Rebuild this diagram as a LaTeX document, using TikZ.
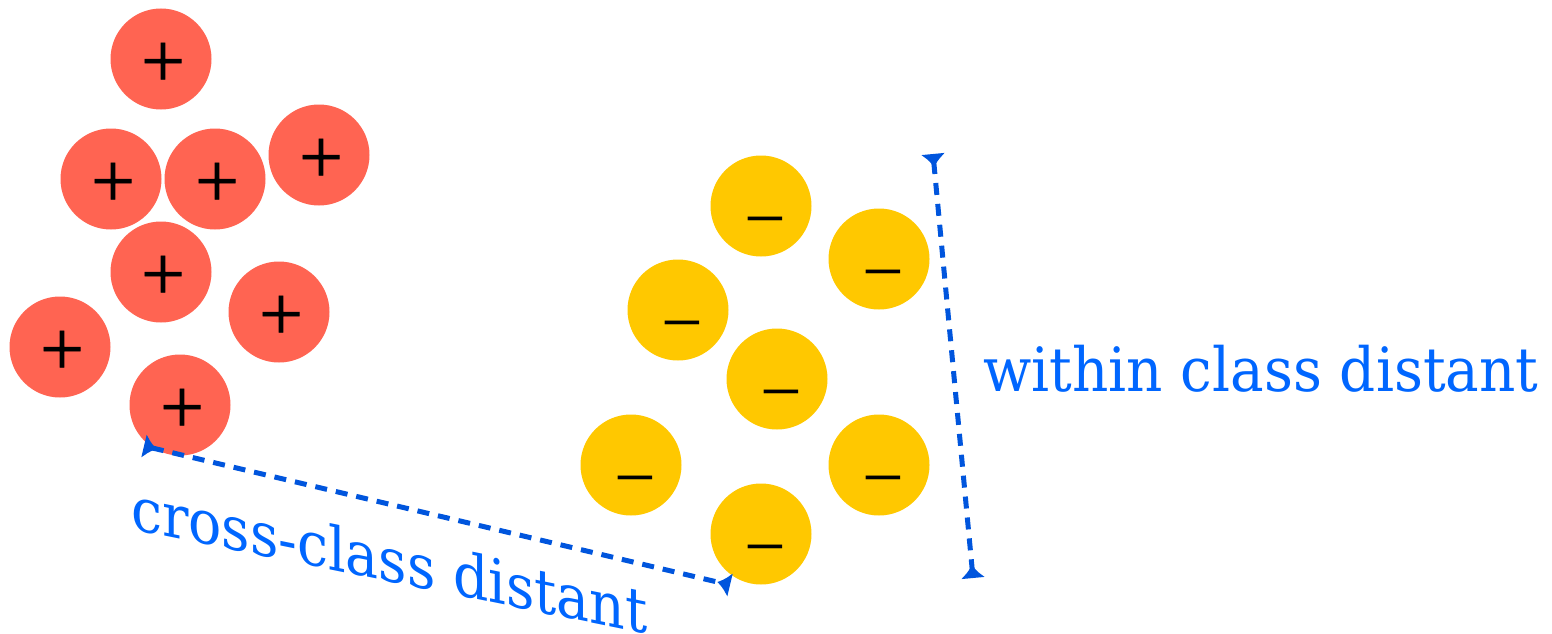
\documentclass[tikz,border=0pt]{standalone}
\usepackage{fontspec}
\usetikzlibrary{arrows.meta}
\newfontfamily\lblfont[FakeStretch=0.925]{DejaVu Serif}
\newfontfamily\signfont[FakeBold=0.8]{Liberation Serif}
\newfontfamily\minusfont{Liberation Serif}
\definecolor{posc}{HTML}{FF6452}
\definecolor{negc}{HTML}{FFC800}
\definecolor{arrc}{HTML}{0055DD}
\definecolor{txtc}{HTML}{0066FF}
\tikzset{
  ball/.style={circle, minimum size=101pt, inner sep=0pt, draw=none},
  posball/.style={ball, fill=posc, label={[signlbl, font=\signfont\fontsize{78}{78}\selectfont, xshift=2pt, yshift=-6pt]center:+}},
  negball/.style={ball, fill=negc, label={[signlbl, font=\minusfont\fontsize{74}{74}\selectfont, xshift=4pt, yshift=-24pt]center:−}},
  signlbl/.style={inner sep=0pt, text=black},
  disttip/.tip={Latex[reversed, length=13pt, width=25pt]},
  distarrow/.style={draw=arrc, line width=5pt, dash pattern=on 12pt off 9pt, disttip-disttip},
  distlbl/.style={font=\lblfont\fontsize{61}{61}\selectfont, text=txtc, inner sep=0pt}
}
\begin{document}
\begin{tikzpicture}[x=1pt, y=-1pt]
\useasboundingbox (0,0) rectangle (1552,634);
% positive class
\node[posball] (p1) at (161,59) {};
\node[posball] (p2) at (111,179) {};
\node[posball] (p3) at (215,179) {};
\node[posball] (p4) at (319,155) {};
\node[posball] (p5) at (161,272) {};
\node[posball] (p6) at (279,312) {};
\node[posball] (p7) at (60,347) {};
\node[posball] (p8) at (180,405) {};
% negative class
\node[negball] (n1) at (761,206) {};
\node[negball] (n2) at (879,259) {};
\node[negball] (n3) at (678,310) {};
\node[negball] (n4) at (777,379) {};
\node[negball] (n5) at (631,465) {};
\node[negball] (n6) at (879,465) {};
\node[negball] (n7) at (761,534) {};
% arrow end points
\coordinate (ca) at (144,446);
\coordinate (cb) at (730,585);
\coordinate (wa) at (933,154);
\coordinate (wb) at (973,578);
\draw[distarrow] (ca) -- (cb);
\draw[distarrow] (wa) -- (wb);
% labels
\node[distlbl, anchor=base west] (wl) at (983,391) {within class distant};
\node[distlbl, anchor=base west, xscale=0.98, yslant=-0.2] (cl) at (131,529) {cross-class distant};
\end{tikzpicture}
\end{document}
